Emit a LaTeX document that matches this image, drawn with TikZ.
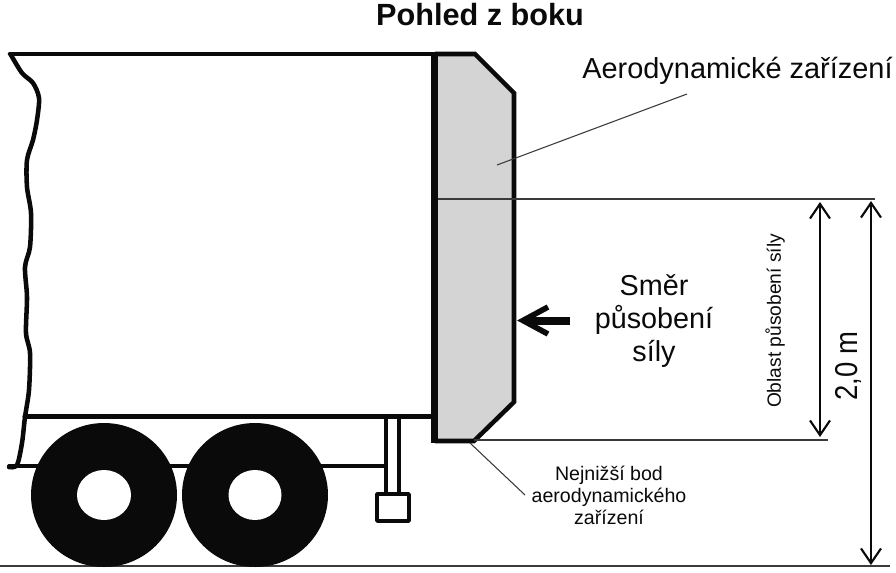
\documentclass[tikz,border=0pt]{standalone}
\usepackage{fontspec}
\setmainfont{Liberation Sans}
\usetikzlibrary{arrows.meta}
\definecolor{ink}{HTML}{0A0A0A}
\definecolor{devgray}{HTML}{D4D4D4}
\definecolor{thin}{HTML}{3A3A3A}
\tikzset{
  x=0.75pt,y=-0.75pt,
  trailer/.style={draw=ink,line cap=round,line join=round},
  thick body/.style={draw=ink,line width=3.4pt,line join=miter},
  leader/.style={draw=thin,line width=0.8pt},
  dimline/.style={draw=ink,line width=1.2pt,{Straight Barb[length=11pt,width=15pt,line width=1.6pt]}-{Straight Barb[length=11pt,width=15pt,line width=1.6pt]}},
  label/.style={inner sep=0pt,text=ink,align=center},
}
\begin{document}
\begin{tikzpicture}
\useasboundingbox (0,0) rectangle (896,572);
% ground
\coordinate (g0) at (0,566);
\coordinate (g1) at (890,566);
\draw[draw=thin,line width=1.4pt] (g0) -- (g1);
% trailer
\draw[trailer,line width=3.4pt] plot[smooth,tension=0.5] coordinates {(11,55) (22,73) (33,83) (39,98) (37,120) (33,140) (27,160) (27,187) (31,213) (30,247) (25,267) (27,297) (26,333) (30,353) (29,390) (25,417) (22,443) (17,465) (9,467)};
\draw[trailer,line width=3.4pt] (10,54) -- (434,54);
\draw[trailer,line width=3.8pt] (25,416.5) -- (434,416.5);
\draw[trailer,line width=2.8pt] (9,466) -- (386,466);
% landing leg
\draw[trailer,line width=2.8pt] (386,416) -- (386,494);
\draw[trailer,line width=2.8pt] (399,416) -- (399,494);
\draw[trailer,line width=2.8pt,fill=white] (377,494) rectangle (409,521);
% wheels
\fill[ink] (104,495) ellipse [x radius=73,y radius=72];
\fill[ink] (255,495) ellipse [x radius=73,y radius=72];
\fill[white] (104,495) ellipse [x radius=27,y radius=25];
\fill[white] (255,495) ellipse [x radius=26.5,y radius=25];
% device
\fill[devgray] (435,54) -- (475,54) -- (514,93) -- (514,402) -- (474,441) -- (435,441) -- cycle;
\draw[thick body] (435,54) -- (475,54) -- (514,93) -- (514,402) -- (474,441) -- (435,441);
\draw[draw=ink,line width=5.4pt] (434.5,52.5) -- (434.5,442.5);
% reference lines
\coordinate (r1) at (438,199);
\coordinate (r2) at (875,199);
\coordinate (r3) at (474,440);
\coordinate (r4) at (828,440);
\draw[leader,line width=1pt] (r1) -- (r2);
\draw[leader,line width=1pt] (r3) -- (r4);
% leaders
\coordinate (l1) at (497,165);
\coordinate (l2) at (687,94);
\coordinate (l3) at (470,443);
\coordinate (l4) at (525,495);
\draw[leader] (l1) -- (l2);
\draw[leader] (l3) -- (l4);
% dimensions
\coordinate (d1) at (820,202);
\coordinate (d2) at (820,437);
\coordinate (d3) at (871,201);
\coordinate (d4) at (871,565);
\draw[dimline] (d1) -- (d2);
\draw[dimline] (d3) -- (d4);
% force arrow
\coordinate (f1) at (570,320.5);
\coordinate (f2) at (528,320.5);
\coordinate (fa) at (548,307);
\coordinate (fb) at (523,320.5);
\coordinate (fc) at (548,334);
\draw[draw=ink,line width=6pt] (f1) -- (f2);
\draw[draw=ink,line width=4.2pt,line join=miter] (fa) -- (fb) -- (fc);
% text
\node[label,font=\bfseries\fontsize{23pt}{26pt}\selectfont] (title) at (480,15) {Pohled z boku};
\node[label,font=\fontsize{21.7pt}{26pt}\selectfont,anchor=west] (aero) at (582,71) {Aerodynamické zařízení};
\node[label,font=\fontsize{21.6pt}{25pt}\selectfont] (smer) at (654,321) {Směr\\působení\\síly};
\node[label,font=\fontsize{14.7pt}{16.5pt}\selectfont] (nej) at (609,495) {Nejnižší bod\\aerodynamického\\zařízení};
\node[label,font=\fontsize{14.4pt}{16pt}\selectfont,rotate=90] (obl) at (775,321) {Oblast působení síly};
\node[label,font=\fontsize{20.6pt}{24pt}\selectfont,rotate=90,yscale=1.15] (dva) at (848,366) {2,0 m};
\end{tikzpicture}
\end{document}
